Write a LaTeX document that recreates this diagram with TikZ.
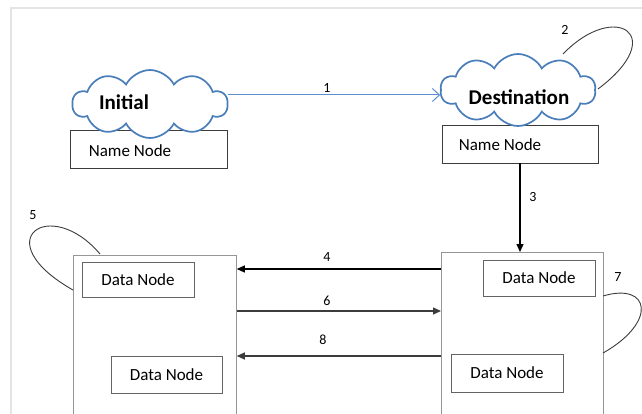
\documentclass[tikz,border=0pt]{standalone}
\usepackage{fontspec}
\setmainfont{Carlito}
\usetikzlibrary{shapes.symbols,arrows.meta}
\definecolor{cloudblue}{RGB}{74,126,187}
\definecolor{arrowblue}{RGB}{91,143,208}
\definecolor{framegrey}{RGB}{228,228,228}
\definecolor{boxgrey}{RGB}{150,150,150}
\definecolor{innergrey}{RGB}{100,100,100}
\definecolor{darkline}{RGB}{60,60,60}
\tikzset{
  cloudnode/.style={cloud, cloud puffs=10, cloud puff arc=125, aspect=2.3, draw=cloudblue, line width=1.7pt, fill=white, inner sep=0pt},
  namebox/.style={draw=darkline, line width=0.8pt, fill=white, inner sep=0pt, minimum height=38pt},
  bigbox/.style={draw=boxgrey, line width=0.8pt, inner sep=0pt},
  databox/.style={draw=innergrey, line width=0.8pt, inner sep=0pt},
  lbl/.style={font=\fontsize{17}{19}\selectfont, text=black, inner sep=0pt},
  bold/.style={font=\fontsize{21}{23}\selectfont\bfseries, inner sep=0pt},
  num/.style={font=\fontsize{14}{16}\selectfont, inner sep=0pt},
  loopline/.style={draw=darkline, line width=0.9pt},
  darr/.style={line width=1.2pt, -{Triangle[length=8pt,width=7pt]}}
}
\begin{document}
\begin{tikzpicture}[x=1pt,y=-1pt]
\useasboundingbox (0,0) rectangle (642,414);
\clip (0,0) rectangle (642,414);
\fill[white] (0,0) rectangle (642,414);
% faint frame
\draw[framegrey, line width=1.5pt] (11,420) -- (11,8) -- (650,8);

% name node boxes
\node[namebox, minimum width=157pt] (nn1) at (148.5,149) {};
\node[namebox, minimum width=156pt] (nn2) at (520,144) {};
% clouds
\node[cloudnode, minimum width=155pt, minimum height=68pt] (c1) at (150,104) {};
\node[cloudnode, minimum width=155pt, minimum height=72pt] (c2) at (518,90) {};
\node[bold] (t1) at (124,102) {Initial};
\node[bold] (t2) at (519,97) {Destination};
\node[lbl] (n1) at (130,151) {Name Node};
\node[lbl] (n2) at (500,145) {Name Node};

% big boxes
\node[bigbox, minimum width=163pt, minimum height=170pt, anchor=north west] (lbox) at (73,255) {};
\node[bigbox, minimum width=162pt, minimum height=170pt, anchor=north west] (rbox) at (441,252) {};
% data nodes
\node[databox, minimum width=112pt, minimum height=35pt] (d1) at (138,279.5) {};
\node[lbl] at (d1.center) {Data Node};
\node[databox, minimum width=111pt, minimum height=37pt] (d2) at (166.5,374.5) {};
\node[lbl] at (d2.center) {Data Node};
\node[databox, minimum width=112pt, minimum height=36pt] (d3) at (539,278) {};
\node[lbl] at (d3.center) {Data Node};
\node[databox, minimum width=112pt, minimum height=38pt] (d4) at (507,373) {};
\node[lbl] at (d4.center) {Data Node};

% arrow 1
\draw[arrowblue, line width=1pt, -{Straight Barb[length=7pt,width=13pt]}] (c1.east |- 0,95) -- (c2.west |- 0,95);
\node[num] (l1) at (327,88) {1};
% arrow 3
\draw[black, darr] (nn2.south -| 520,0) -- (rbox.north -| 520,0);
\node[num] (l3) at (533,197) {3};
% arrows 4,6,8
\draw[black, darr] (rbox.west |- 0,269) -- (lbox.east |- 0,269);
\node[num] (l4) at (327,257) {4};
\draw[darkline, darr] (lbox.east |- 0,311) -- (rbox.west |- 0,311);
\node[num] (l6) at (327,301) {6};
\draw[darkline, darr] (rbox.west |- 0,356) -- (lbox.east |- 0,356);
\node[num] (l8) at (323,340) {8};

% loops
\draw[loopline] (563,54) .. controls (615,0) and (670,35) .. (598,89);
\node[num] (l2) at (565,30) {2};
\draw[loopline] (100,254) .. controls (50,195) and (-15,240) .. (73,290);
\node[num] (l5) at (33,215) {5};
\draw[loopline] (603,296) .. controls (650,282) and (658,322) .. (603,353);
\node[num] (l7) at (618,277) {7};
\end{tikzpicture}
\end{document}
